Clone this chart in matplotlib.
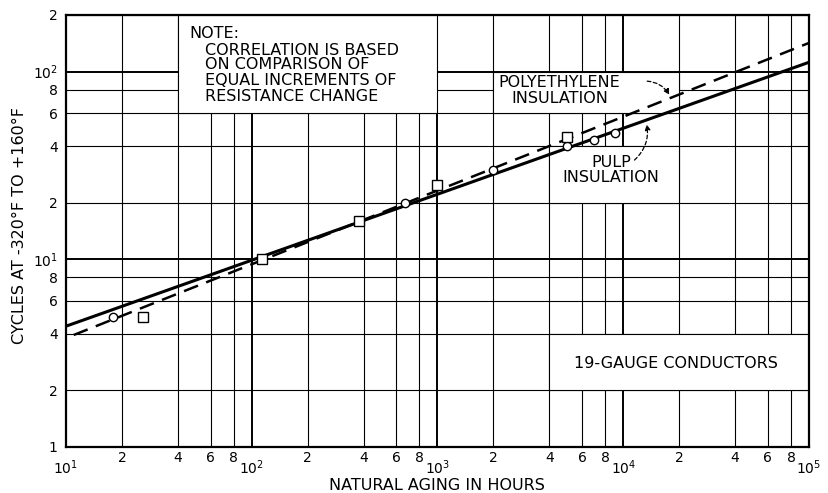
import matplotlib
matplotlib.use("Agg")
import matplotlib.pyplot as plt
from matplotlib.patches import Rectangle
from matplotlib.ticker import FixedLocator, FixedFormatter

# measured points (natural aging hours, cycles)
pulp_hours = [18, 670, 2000, 5000, 7000, 9000]
pulp_cycles = [4.9, 20, 30, 40, 43, 47]
poly_hours = [26, 113, 380, 1000, 5000]
poly_cycles = [4.9, 10, 16, 25, 45]

# correlation lines (end points)
pulp_fit_hours = [10, 1e5]
pulp_fit_cycles = [4.4, 112]
poly_fit_hours = [11, 1e5]
poly_fit_cycles = [3.95, 142]

x_major = [10, 100, 1000, 10000, 100000]
x_major_labels = ["$10^1$", "$10^2$", "$10^3$", "$10^4$", "$10^5$"]
x_minor = [m * d for d in [10, 100, 1000, 10000] for m in [2, 4, 6, 8]]
x_minor_labels = ["2", "4", "6", "8"] * 4

y_major = [1, 10, 100]
y_major_labels = ["1", "$10^1$", "$10^2$"]
y_minor = [2, 4, 6, 8, 20, 40, 60, 80, 200]
y_minor_labels = ["2", "4", "6", "8", "2", "4", "6", "8", "2"]

W, H = 829, 493
fig = plt.figure(figsize=(W / 100, H / 100), dpi=100)
ax = fig.add_axes([66 / W, (H - 447) / H, 743 / W, 432 / H])
ax.set_xscale("log")
ax.set_yscale("log")
ax.set_xlim(10, 1e5)
ax.set_ylim(1, 200)

ax.xaxis.set_major_locator(FixedLocator(x_major))
ax.xaxis.set_major_formatter(FixedFormatter(x_major_labels))
ax.xaxis.set_minor_locator(FixedLocator(x_minor))
ax.xaxis.set_minor_formatter(FixedFormatter(x_minor_labels))
ax.yaxis.set_major_locator(FixedLocator(y_major))
ax.yaxis.set_major_formatter(FixedFormatter(y_major_labels))
ax.yaxis.set_minor_locator(FixedLocator(y_minor))
ax.yaxis.set_minor_formatter(FixedFormatter(y_minor_labels))

ax.tick_params(which="both", length=0, labelsize=10, colors="black")
ax.tick_params(axis="x", which="major", pad=8)
ax.tick_params(axis="x", which="minor", pad=3)
ax.tick_params(axis="y", which="both", pad=6)

ax.set_axisbelow(True)
ax.grid(True, which="major", color="black", lw=1.4)
ax.grid(True, which="minor", color="black", lw=0.8)
for s in ax.spines.values():
    s.set_linewidth(1.6)

# white label panels cut out of the grid
boxes = [((40, 60), 1000, 200), ((2000, 60), 20000, 100),
         ((4000, 20), 20000, 40), ((4000, 2), 1e5, 4)]
for (x0, y0), x1, y1 in boxes:
    ax.add_patch(Rectangle((x0, y0), x1 - x0, y1 - y0, facecolor="white",
                           edgecolor="black", lw=0.8, zorder=1))

ax.plot(pulp_fit_hours, pulp_fit_cycles, color="black", lw=2.2, zorder=3)
ax.plot(poly_fit_hours, poly_fit_cycles, color="black", lw=1.8,
        dashes=(6, 3.5), zorder=3)
ax.plot(pulp_hours, pulp_cycles, "o", ms=6, mfc="white", mec="black",
        mew=1.0, zorder=4)
ax.plot(poly_hours, poly_cycles, "s", ms=6.5, mfc="white", mec="black",
        mew=1.0, zorder=4)

fs = 11.5
ax.text(46, 160, "NOTE:", fontsize=fs, va="center", zorder=5)
note_lines = ["CORRELATION IS BASED", "ON COMPARISON OF",
              "EQUAL INCREMENTS OF", "RESISTANCE CHANGE"]
for line, yy in zip(note_lines, [130, 109, 90, 74]):
    ax.text(56, yy, line, fontsize=fs, va="center", zorder=5)

ax.text(4530, 79, "POLYETHYLENE\nINSULATION", fontsize=fs, ha="center",
        va="center", linespacing=1.05, zorder=5)
ax.annotate("", xy=(18000, 73), xytext=(13000, 89),
            arrowprops=dict(arrowstyle="-|>", color="black", lw=0.9,
                            ls=(0, (3, 2)), connectionstyle="arc3,rad=-0.3",
                            mutation_scale=8), zorder=5)
ax.text(8600, 29.9, "PULP\nINSULATION", fontsize=fs, ha="center",
        va="center", linespacing=1.05, zorder=5)
ax.annotate("", xy=(13300, 54), xytext=(11200, 33),
            arrowprops=dict(arrowstyle="-|>", color="black", lw=0.9,
                            ls=(0, (3, 2)), connectionstyle="arc3,rad=0.3",
                            mutation_scale=8), zorder=5)
ax.text(19300, 2.8, "19-GAUGE CONDUCTORS", fontsize=fs, ha="center",
        va="center", zorder=5)

fig.text(437 / W, 1 - 485 / H, "NATURAL AGING IN HOURS", fontsize=fs,
         ha="center", va="center")
fig.text(20 / W, 1 - 225 / H, "CYCLES AT -320°F TO +160°F", fontsize=fs,
         ha="center", va="center", rotation=90)

fig.savefig("out.png", dpi=100)
